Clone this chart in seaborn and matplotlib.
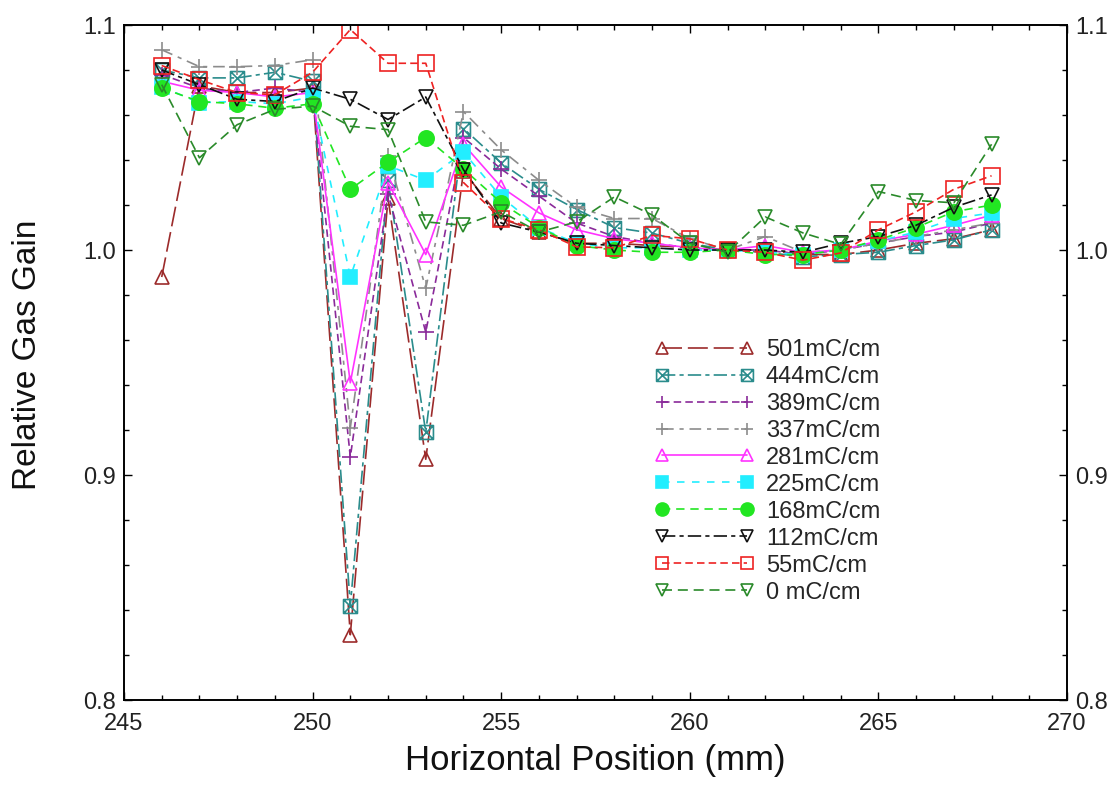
import numpy as np
import pandas as pd
import matplotlib
matplotlib.use("Agg")
import matplotlib.pyplot as plt
from matplotlib.path import Path
from matplotlib.ticker import MultipleLocator
import seaborn as sns

# Horizontal scan positions (mm)
position_mm = list(range(246, 269))

# Relative gas gain for each accumulated charge
gain_501 = [0.988, 1.073, 1.070, 1.070, 1.072, 0.829, 1.023, 0.907, 1.035, 1.014, 1.008, 1.003,
            1.003, 1.002, 1.001, 1.000, 1.000, 0.998, 0.998, 1.000, 1.003, 1.005, 1.009]
gain_444 = [1.080, 1.0765, 1.0765, 1.079, 1.075, 0.842, 1.031, 0.919, 1.054, 1.0387, 1.027, 1.018,
            1.010, 1.0075, 1.003, 1.000, 0.999, 0.997, 0.998, 0.999, 1.002, 1.0045, 1.009]
gain_389 = [1.078, 1.072, 1.070, 1.072, 1.070, 0.908, 1.025, 0.9635, 1.050, 1.036, 1.024, 1.012,
            1.006, 1.003, 1.001, 1.000, 1.000, 0.998, 1.000, 1.003, 1.006, 1.008, 1.012]
gain_337 = [1.089, 1.0815, 1.0815, 1.082, 1.0846, 0.921, 1.042, 0.983, 1.0615, 1.0445, 1.031, 1.019,
            1.014, 1.014, 1.005, 1.000, 1.006, 0.999, 1.000, 1.003, 1.006, 1.009, 1.012]
gain_281 = [1.075, 1.071, 1.070, 1.068, 1.070, 0.941, 1.030, 0.998, 1.047, 1.028, 1.0165, 1.009,
            1.005, 1.003, 1.001, 1.000, 1.002, 0.999, 1.000, 1.004, 1.007, 1.011, 1.0155]
gain_225 = [1.0725, 1.0655, 1.066, 1.065, 1.068, 0.988, 1.0375, 1.031, 1.0435, 1.0236, 1.010, 1.003,
            1.001, 1.001, 1.000, 1.000, 0.999, 0.998, 1.000, 1.004, 1.008, 1.014, 1.0165]
gain_168 = [1.072, 1.066, 1.065, 1.063, 1.065, 1.027, 1.039, 1.050, 1.036, 1.021, 1.010, 1.002,
            1.000, 0.999, 0.999, 1.000, 0.998, 0.998, 1.000, 1.0045, 1.010, 1.017, 1.020]
gain_112 = [1.080, 1.0735, 1.067, 1.066, 1.072, 1.067, 1.058, 1.068, 1.0357, 1.012, 1.008, 1.003,
            1.002, 1.001, 1.000, 1.000, 1.000, 0.999, 1.003, 1.006, 1.011, 1.019, 1.0245]
gain_55 = [1.082, 1.0757, 1.070, 1.069, 1.079, 1.098, 1.083, 1.083, 1.030, 1.014, 1.009, 1.0014,
           1.001, 1.0065, 1.005, 1.000, 0.999, 0.9955, 0.9987, 1.009, 1.017, 1.027, 1.033]
gain_0 = [1.0735, 1.041, 1.0557, 1.0625, 1.064, 1.055, 1.0535, 1.0125, 1.011, 1.017, 1.008, 1.0125,
          1.0236, 1.0156, 1.003, 0.999, 1.0147, 1.0076, 1.0025, 1.026, 1.022, 1.021, 1.047]

series_labels = ["501mC/cm", "444mC/cm", "389mC/cm", "337mC/cm", "281mC/cm",
                 "225mC/cm", "168mC/cm", "112mC/cm", "55mC/cm", "0 mC/cm"]
series_values = [gain_501, gain_444, gain_389, gain_337, gain_281,
                 gain_225, gain_168, gain_112, gain_55, gain_0]

# square with a cross inside
boxed_x = Path(
    [(-1, -1), (1, -1), (1, 1), (-1, 1), (-1, -1), (-1, -1), (1, 1), (-1, 1), (1, -1)],
    [Path.MOVETO, Path.LINETO, Path.LINETO, Path.LINETO, Path.CLOSEPOLY,
     Path.MOVETO, Path.LINETO, Path.MOVETO, Path.LINETO],
)

# (colour, marker, filled, markersize, dash pattern)
styles = [
    ("#9c2b2b", "^", False, 10, (0, (12, 3.5))),
    ("#2a8c8c", boxed_x, False, 10, (0, (8, 2.5, 2.5, 2.5))),
    ("#8a2a9a", "+", False, 11, (0, (4.5, 2.5))),
    ("#8c8c8c", "+", False, 11, (0, (7, 3.5, 2.5, 3.5))),
    ("#ff33ff", "^", False, 10, "-"),
    ("#22eeff", "s", True, 10, (0, (4.5, 4.5))),
    ("#22e622", "o", True, 11, (0, (5, 3.5))),
    ("#111111", "v", False, 10, (0, (8, 2.5, 2.5, 2.5))),
    ("#ee2222", "s", False, 11, (0, (4.5, 2.5))),
    ("#2a8a2a", "v", False, 10, (0, (6, 3.5))),
]

sns.set_theme(style="ticks")
plt.rcParams["font.family"] = ["Liberation Sans", "DejaVu Sans"]

fig = plt.figure(figsize=(11.18, 7.97), dpi=100)
ax = fig.add_axes([0.1109, 0.1217, 0.8435, 0.8469])

for label, vals, (col, mk, filled, ms, ls) in zip(series_labels, series_values, styles):
    df = pd.DataFrame({"pos": position_mm, "gain": vals})
    sns.lineplot(data=df, x="pos", y="gain", ax=ax, color=col, marker=mk,
                 markersize=ms, mfc=col if filled else "none", mec=col, mew=1.2,
                 linestyle=ls, lw=1.2, label=label, estimator=None, errorbar=None,
                 sort=False, legend=False)

ax.set_xlim(245, 270)
ax.set_ylim(0.8, 1.1)
ax.xaxis.set_major_locator(MultipleLocator(5))
ax.xaxis.set_minor_locator(MultipleLocator(1))
ax.yaxis.set_major_locator(MultipleLocator(0.1))
ax.yaxis.set_minor_locator(MultipleLocator(0.02))
ax.yaxis.set_major_formatter(matplotlib.ticker.FormatStrFormatter("%.1f"))

ax.tick_params(which="both", direction="in", top=True, right=True, labelright=True,
               color="black", width=1.0, labelsize=17, labelcolor="#222222")
ax.tick_params(which="major", length=6)
ax.tick_params(which="minor", length=3.5)
ax.tick_params(axis="x", pad=9)
ax.tick_params(axis="y", pad=6)
for sp in ax.spines.values():
    sp.set_color("black")
    sp.set_linewidth(1.4)

ax.set_xlabel("Horizontal Position (mm)", fontsize=25, color="#111111")
ax.set_ylabel("Relative Gas Gain", fontsize=24, color="#111111")
ax.xaxis.label.set_va("center")
ax.xaxis.set_label_coords(0.5, -0.09)
ax.yaxis.label.set_va("center")
ax.yaxis.label.set_ha("center")
ax.yaxis.set_label_coords(-0.102, 0.512)

handles, labels = ax.get_legend_handles_labels()
ax.legend(handles, labels, loc="upper left", bbox_to_anchor=(0.563, 0.535),
          frameon=False, fontsize=17, numpoints=2, handlelength=4.2,
          handletextpad=0.5, labelspacing=0.21, borderpad=0, borderaxespad=0,
          markerscale=0.85)

fig.savefig("out.png", dpi=100)
